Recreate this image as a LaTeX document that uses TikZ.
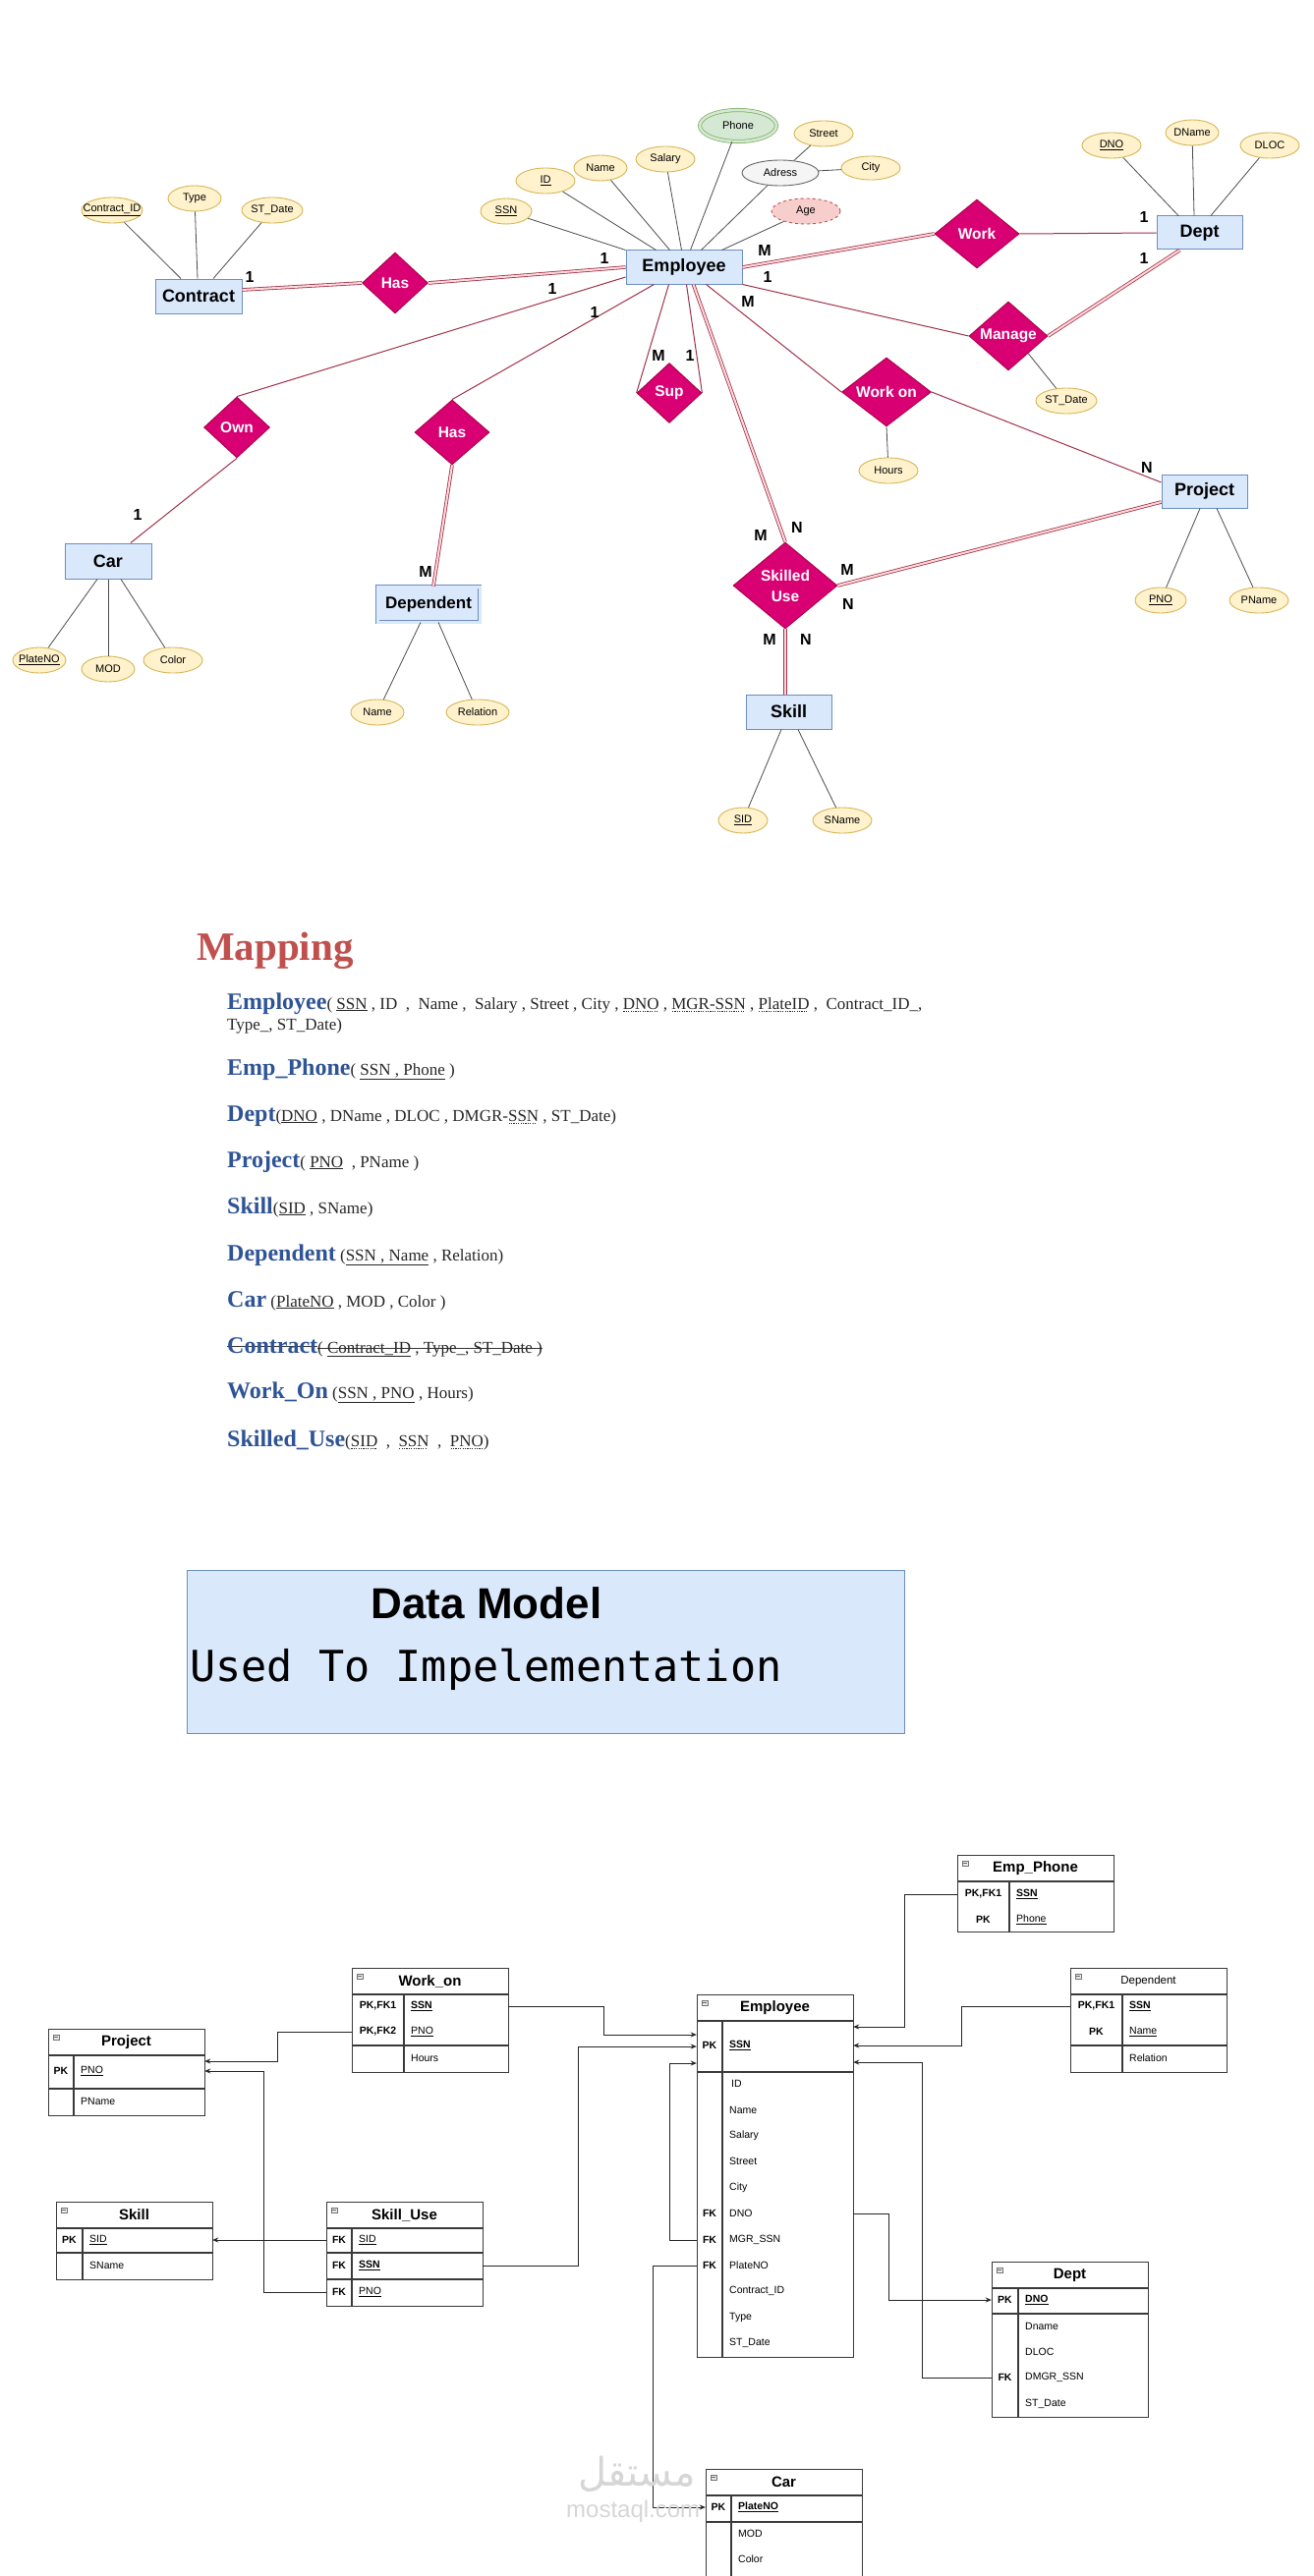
\documentclass[tikz,border=0pt]{standalone}
\usepackage{fontspec}
\usetikzlibrary{shapes.geometric,arrows.meta}
\setmainfont{Liberation Sans}
\newfontfamily\ersans{Liberation Sans}
\newfontfamily\tnr{Liberation Serif}
\newfontfamily\monof{DejaVu Sans Mono}
\newfontfamily\arabicfont[Script=Arabic]{DejaVu Sans}
\TeXXeTstate=1
\definecolor{entF}{HTML}{DAE8FC}
\definecolor{entB}{HTML}{6C8EBF}
\definecolor{attF}{HTML}{FFF2CC}
\definecolor{attB}{HTML}{D6B656}
\definecolor{relF}{HTML}{D80073}
\definecolor{relB}{HTML}{A50040}
\definecolor{lnC}{HTML}{A0304A}
\definecolor{phF}{HTML}{D5E8D4}
\definecolor{phB}{HTML}{82B366}
\definecolor{adF}{HTML}{F5F5F5}
\definecolor{adB}{HTML}{666666}
\definecolor{agF}{HTML}{F8CECC}
\definecolor{agB}{HTML}{B85450}
\definecolor{mapRed}{HTML}{C0504D}
\definecolor{mapBlue}{HTML}{2F5496}
\definecolor{tcol}{HTML}{3A3A3A}
\newcommand\zw[1]{\hbox to 0pt{\hss#1\hss}}
\newcommand\mn[1]{{\color{mapBlue}\fontsize{24}{24}\selectfont\bfseries #1}}
\newcommand\strk[1]{\setbox0=\hbox{#1}\rlap{\raise0.35\ht0\hbox{\color{black!80}\vrule width\wd0 height 1.2pt depth 0pt}}\box0\relax}
\newcommand\dotul[1]{\setbox1=\hbox{#1}\rlap{\lower2.8pt\hbox to\wd1{\leaders\hbox to 2.4pt{\hss\vrule width 1.2pt height 1pt\hss}\hfill}}\box1\relax}
\tikzset{
 ent/.style={draw=entB, fill=entF, line width=1pt, minimum width=88pt, minimum height=35pt, inner sep=0, font=\ersans\bfseries\fontsize{18}{18}\selectfont},
 attr/.style={ellipse, draw=attB, fill=attF, line width=0.9pt, minimum height=26pt, inner sep=0, font=\ersans\fontsize{11}{11}\selectfont},
 rel/.style={diamond, aspect=1.3, draw=relB, fill=relF, line width=0.8pt, inner sep=0, text=white, font=\ersans\bfseries\fontsize{15.5}{21}\selectfont},
 rl/.style={draw=lnC, line width=1pt},
 dbl/.style={draw=lnC, line width=0.8pt, double=pink!60!white, double distance=2pt},
 al/.style={draw=black!70, line width=0.8pt},
 card/.style={inner sep=0, font=\ersans\bfseries\fontsize{16}{16}\selectfont},
 mrow/.style={anchor=base west, inner sep=0, text=black!85, font=\tnr\fontsize{17}{20}\selectfont},
 tbox/.style={draw=tcol, line width=1.3pt, minimum width=159pt, inner sep=0, anchor=north west},
 tl/.style={draw=tcol, line width=1.3pt},
 ttl/.style={inner sep=0, font=\ersans\bfseries\fontsize{15}{15}\selectfont},
 tkey/.style={inner sep=0, font=\ersans\bfseries\fontsize{10.5}{10.5}\selectfont},
 tfld/.style={inner sep=0, anchor=west, font=\ersans\fontsize{10.5}{10.5}\selectfont},
 rowsp/.style={inner sep=0, minimum width=159pt, minimum height=0pt},
 ticon/.style={draw=black!55, fill=black!8, minimum width=6pt, minimum height=5pt, inner sep=0, line width=0.5pt},
 fk/.style={draw=black!85, line width=1pt, -{Stealth[length=6pt,width=5pt]}},
}
\newcommand\tbl[6]{%
  \node[tbox, minimum height=#4pt] (#1) at (#2,#3) {};
  \draw[tl] (#2,#3+27) -- (#2+159,#3+27);
  \draw[tl] (#2+#5,#3+27) -- (#2+#5,#3+#4);
  \node[ticon] (#1-ic) at (#2+8,#3+8.5) {};
  \draw[black!60, line width=0.6pt] (#2+6,#3+8.5) -- (#2+10,#3+8.5);
  \node[ttl] (#1-t) at (#2+79.5,#3+13.5) {#6};
}
\newcommand\trow[6]{%
  \node[rowsp] (#1) at (#2+79.5,#3) {};
  \node[tkey] (#1-k) at (#2+#4/2,#3) {#5};
  \node[tfld] (#1-f) at (#2+#4+7,#3) {#6};
}
\begin{document}
\begin{tikzpicture}[x=1pt,y=-1pt]
\useasboundingbox (0,0) rectangle (1337,2622);
\fill[white] (0,0) rectangle (1337,2622);

% ================= ER diagram =================
\node[ent, minimum width=118pt, minimum height=34pt] (Emp) at (696,272) {Employee};
\node[ent] (Con) at (202,301.5) {Contract};
\node[ent, minimum width=87pt, minimum height=34pt] (Dept) at (1220.5,237) {Dept};
\node[ent, minimum width=87pt, minimum height=34pt] (Proj) at (1225.5,500) {Project};
\node[ent, minimum width=87pt] (Skill) at (802.5,724.5) {Skill};
\node[ent, minimum height=36pt] (Car) at (110,571) {Car};
\node[ent, double=entF, double distance=3pt, line width=0.8pt, minimum width=104pt, minimum height=36pt, font=\ersans\bfseries\fontsize{17}{17}\selectfont] (Dep) at (436,615) {Dependent};

\node[rel, minimum width=67pt, minimum height=62pt] (HasC) at (402,288) {Has};
\node[rel, minimum width=67pt, minimum height=62pt] (Own) at (241,435) {Own};
\node[rel, minimum width=76pt, minimum height=66pt] (HasD) at (460,440) {Has};
\node[rel, minimum width=66pt, minimum height=61pt] (Sup) at (681,400) {Sup};
\node[rel, minimum width=86pt, minimum height=70pt] (Work) at (994,238) {Work};
\node[rel, minimum width=80pt, minimum height=70pt] (Mng) at (1026,342) {Manage};
\node[rel, minimum width=91pt, minimum height=70pt] (WOn) at (902,399) {Work on};
\node[rel, minimum width=106pt, minimum height=88pt, align=center] (SU) at (799,596) {Skilled\\Use};

% attributes
\node[attr, minimum width=62pt] (aCID) at (114,214) {\zw{\underline{Contract\_ID}}};
\node[attr, minimum width=54pt] (aType) at (198,202) {\zw{Type}};
\node[attr, minimum width=62pt] (aCSD) at (277,214) {\zw{ST\_Date}};
\node[attr, minimum width=52pt] (aSSN) at (515,215) {\zw{\underline{SSN}}};
\node[attr, minimum width=60pt] (aID) at (555,184) {\zw{\underline{ID}}};
\node[attr, minimum width=54pt] (aName) at (611,171) {\zw{Name}};
\node[attr, minimum width=60pt] (aSal) at (677,162) {\zw{Salary}};
\node[attr, draw=phB, fill=phF, double=phF, double distance=2.5pt, line width=0.8pt, minimum width=78pt, minimum height=32pt] (aPhone) at (751,128) {\zw{Phone}};
\node[attr, minimum width=60pt] (aStreet) at (838,136) {\zw{Street}};
\node[attr, draw=adB, fill=adF, minimum width=78pt] (aAdr) at (794,176) {\zw{Adress}};
\node[attr, minimum width=60pt, minimum height=24pt] (aCity) at (886,171) {\zw{City}};
\node[attr, draw=agB, fill=agF, dashed, minimum width=70pt] (aAge) at (820,215) {\zw{Age}};
\node[attr, minimum width=60pt] (aDNO) at (1131,148) {\zw{\underline{DNO}}};
\node[attr, minimum width=54pt] (aDName) at (1213,135) {\zw{DName}};
\node[attr, minimum width=60pt] (aDLOC) at (1292,148) {\zw{DLOC}};
\node[attr, minimum width=62pt] (aMSD) at (1085,408) {\zw{ST\_Date}};
\node[attr, minimum width=60pt] (aHours) at (904,479) {\zw{Hours}};
\node[attr, minimum width=52pt] (aPNO) at (1181,611) {\zw{\underline{PNO}}};
\node[attr, minimum width=60pt] (aPName) at (1281,611) {\zw{PName}};
\node[attr, minimum width=50pt] (aSID) at (756,835) {\zw{\underline{SID}}};
\node[attr, minimum width=60pt] (aSName) at (857,835) {\zw{SName}};
\node[attr, minimum width=54pt] (aPlate) at (40,672) {\zw{\underline{PlateNO}}};
\node[attr, minimum width=54pt] (aMOD) at (110,681) {\zw{MOD}};
\node[attr, minimum width=60pt] (aColor) at (176,672) {\zw{Color}};
\node[attr, minimum width=54pt] (aDepN) at (384,725) {\zw{Name}};
\node[attr, minimum width=64pt] (aRel) at (486,725) {\zw{Relation}};

% attribute lines
\draw[al] (aSSN) -- (Emp.north west);
\draw[al] (aID) -- ([xshift=31pt]Emp.north west);
\draw[al] (aName) -- ([xshift=45pt]Emp.north west);
\draw[al] (aSal) -- ([xshift=57pt]Emp.north west);
\draw[al] (aPhone) -- ([xshift=66pt]Emp.north west);
\draw[al] (aAdr) -- ([xshift=77pt]Emp.north west);
\draw[al] (aAge) -- ([xshift=98pt]Emp.north west);
\draw[al] (aStreet) -- (aAdr);
\draw[al] (aCity) -- (aAdr);
\draw[al] (aCID) -- ([xshift=-18pt]Con.north);
\draw[al] (aType) -- ([xshift=-1pt]Con.north);
\draw[al] (aCSD) -- ([xshift=15pt]Con.north);
\draw[al] (aDNO) -- ([xshift=-21.5pt]Dept.north);
\draw[al] (aDName) -- ([xshift=-5.5pt]Dept.north);
\draw[al] (aDLOC) -- ([xshift=11.5pt]Dept.north);
\draw[al] (aPNO) -- ([xshift=-4.5pt]Proj.south);
\draw[al] (aPName) -- ([xshift=12.5pt]Proj.south);
\draw[al] (aSID) -- ([xshift=-7.5pt]Skill.south);
\draw[al] (aSName) -- ([xshift=9.5pt]Skill.south);
\draw[al] (aPlate) -- ([xshift=-11pt]Car.south);
\draw[al] (aMOD) -- (Car.south);
\draw[al] (aColor) -- ([xshift=13pt]Car.south);
\draw[al] (aDepN) -- ([xshift=-8pt]Dep.south);
\draw[al] (aRel) -- ([xshift=10pt]Dep.south);
\draw[al] (Mng.south east) -- (aMSD);
\draw[al] (WOn.south) -- (aHours);

% relationship lines
\draw[dbl] ([yshift=6.5pt]Con.east) -- (HasC.west);
\draw[dbl] (HasC.east) -- (Emp.west);
\draw[rl] ([yshift=-10pt]Emp.west) -- (Own.north);
\draw[rl] (Own.south) -- ([xshift=23pt]Car.north);
\draw[rl] ([xshift=29pt]Emp.south west) -- (HasD.north);
\draw[dbl] (HasD.south) -- ([xshift=5pt]Dep.north);
\draw[rl] ([xshift=44pt]Emp.south west) -- (Sup.west);
\draw[rl] ([xshift=62pt]Emp.south west) -- (Sup.east);
\draw[dbl] ([xshift=69pt]Emp.south west) -- (SU.north);
\draw[rl] ([xshift=82pt]Emp.south west) -- (WOn.west);
\draw[dbl] (Emp.east) -- (Work.west);
\draw[rl] (Work.east) -- (Dept.west);
\draw[rl] (Emp.south east) -- (Mng.west);
\draw[dbl] (Mng.east) -- ([xshift=-20pt]Dept.south);
\draw[rl] (WOn.east) -- ([yshift=9pt]Proj.west);
\draw[dbl] (SU.east) -- ([yshift=-11pt]Proj.west);
\draw[dbl] (SU.south) -- ([xshift=-3.5pt]Skill.north);

% cardinalities
\node[card] (k1) at (254,282) {1};
\node[card] (k2) at (615,263) {1};
\node[card] (k3) at (562,294) {1};
\node[card] (k4) at (605,318) {1};
\node[card] (k5) at (140,524) {1};
\node[card] (k6) at (670,362) {M};
\node[card] (k7) at (702,362) {1};
\node[card] (k8) at (778,255) {M};
\node[card] (k9) at (781,282) {1};
\node[card] (k10) at (761,307) {M};
\node[card] (k11) at (1164,221) {1};
\node[card] (k12) at (1164,263) {1};
\node[card] (k13) at (1167,476) {N};
\node[card] (k14) at (433,582) {M};
\node[card] (k15) at (774,545) {M};
\node[card] (k16) at (811,537) {N};
\node[card] (k17) at (862,580) {M};
\node[card] (k18) at (863,615) {N};
\node[card] (k19) at (783,651) {M};
\node[card] (k20) at (820,651) {N};

% ================= Mapping =================
\node[anchor=base west, inner sep=0, text=mapRed, font=\tnr\bfseries\fontsize{41}{41}\selectfont] (mT) at (200,977) {Mapping};
\node[mrow] (m1) at (231,1027) {\mn{Employee}( \underline{SSN} , ID\ \ ,\ \ Name ,\ \ Salary , Street , City , \dotul{DNO} , \dotul{MGR-SSN} , \dotul{PlateID} ,\ \ Contract\_ID\_,};
\node[mrow] (m1b) at (231,1048) {Type\_, ST\_Date)};
\node[mrow] (m2) at (231,1094) {\mn{Emp\_Phone}( \underline{SSN , Phone} )};
\node[mrow] (m3) at (231,1141) {\mn{Dept}(\underline{DNO} , DName , DLOC , DMGR-\dotul{SSN} , ST\_Date)};
\node[mrow] (m4) at (231,1188) {\mn{Project}( \underline{PNO}\ \ , PName )};
\node[mrow] (m5) at (231,1235) {\mn{Skill}(\underline{SID} , SName)};
\node[mrow] (m6) at (231,1283) {\mn{Dependent} (\underline{SSN , Name} , Relation)};
\node[mrow] (m7) at (231,1330) {\mn{Car} (\underline{PlateNO} , MOD , Color )};
\node[mrow] (m8) at (231,1377) {\strk{\mn{Contract}}\strk{( \underline{Contract\_ID} , Type\_, ST\_Date )}};
\node[mrow] (m9) at (231,1423) {\mn{Work\_On} (\underline{SSN , PNO} , Hours)};
\node[mrow] (m10) at (231,1472) {\mn{Skilled\_Use}(\dotul{SID}\ \ ,\ \ \dotul{SSN}\ \ ,\ \ \dotul{PNO})};

% ================= Data model box =================
\node[draw=entB, fill=entF, line width=1pt, minimum width=730pt, minimum height=166pt, anchor=north west, inner sep=0] (dm) at (190,1598) {};
\node[anchor=base, inner sep=0, font=\ersans\bfseries\fontsize{44}{44}\selectfont] (dmT) at (495,1647) {Data Model};
\node[anchor=base west, inner sep=0, font=\monof\fontsize{43.5}{43.5}\selectfont] (dmS) at (193,1711) {Used To Impelementation};

% ================= Relational schema =================
\tbl{tPh}{974}{1888}{78}{53}{Emp\_Phone}
\trow{rPhSSN}{974}{1928}{53}{PK,FK1}{\textbf{\underline{SSN}}}
\trow{rPhPh}{974}{1954}{53}{PK}{\underline{Phone}}

\tbl{tDep}{1089}{2003}{106}{53}{\mdseries\fontsize{11.5}{11.5}\selectfont Dependent}
\draw[tl] (1089,2082) -- (1248,2082);
\trow{rDepSSN}{1089}{2042}{53}{PK,FK1}{\textbf{\underline{SSN}}}
\trow{rDepName}{1089}{2068}{53}{PK}{\underline{Name}}
\trow{rDepRel}{1089}{2095}{53}{}{Relation}

\tbl{tEmp}{709}{2030}{369}{26}{Employee}
\draw[tl] (709,2109) -- (868,2109);
\trow{rEmpSSN}{709}{2082}{26}{PK}{\textbf{\underline{SSN}}}
\trow{rEmpID}{709}{2121}{26}{}{\kern2pt ID}
\trow{rEmpName}{709}{2148}{26}{}{Name}
\trow{rEmpSal}{709}{2174}{26}{}{Salary}
\trow{rEmpStr}{709}{2200}{26}{}{Street}
\trow{rEmpCity}{709}{2227}{26}{}{City}
\trow{rEmpDNO}{709}{2253}{26}{FK}{DNO}
\trow{rEmpMGR}{709}{2280}{26}{FK}{MGR\_SSN}
\trow{rEmpPlate}{709}{2306}{26}{FK}{PlateNO}
\trow{rEmpCID}{709}{2332}{26}{}{Contract\_ID}
\trow{rEmpType}{709}{2359}{26}{}{Type}
\trow{rEmpSD}{709}{2385}{26}{}{ST\_Date}

\tbl{tDept}{1009}{2302}{158}{27}{Dept}
\draw[tl] (1009,2355) -- (1168,2355);
\trow{rDeptDNO}{1009}{2341}{27}{PK}{\textbf{\underline{DNO}}}
\trow{rDeptName}{1009}{2368}{27}{}{Dname}
\trow{rDeptLoc}{1009}{2394}{27}{}{DLOC}
\trow{rDeptMGR}{1009}{2420}{27}{FK}{DMGR\_SSN}
\trow{rDeptSD}{1009}{2447}{27}{}{ST\_Date}

\tbl{tCar}{718}{2513}{125}{26}{Car}
\draw[tl] (718,2567) -- (877,2567);
\trow{rCarPlate}{718}{2552}{26}{PK}{\textbf{\underline{PlateNO}}}
\trow{rCarMOD}{718}{2579}{26}{}{MOD}
\trow{rCarCol}{718}{2605}{26}{}{Color}

\tbl{tProj}{49}{2065}{88}{26}{Project}
\draw[tl] (49,2126) -- (208,2126);
\trow{rProjPNO}{49}{2108}{26}{PK}{\underline{PNO}}
\trow{rProjName}{49}{2139}{26}{}{PName}

\tbl{tWo}{358}{2003}{106}{53}{Work\_on}
\draw[tl] (358,2082) -- (517,2082);
\trow{rWoSSN}{358}{2042}{53}{PK,FK1}{\textbf{\underline{SSN}}}
\trow{rWoPNO}{358}{2068}{53}{PK,FK2}{\underline{PNO}}
\trow{rWoH}{358}{2095}{53}{}{Hours}

\tbl{tSk}{57}{2241}{79}{27}{Skill}
\draw[tl] (57,2293) -- (216,2293);
\trow{rSkSID}{57}{2280}{27}{PK}{\underline{SID}}
\trow{rSkName}{57}{2306}{27}{}{SName}

\tbl{tSU}{332}{2241}{106}{26}{Skill\_Use}
\draw[tl] (332,2293) -- (491,2293);
\draw[tl] (332,2320) -- (491,2320);
\trow{rSUSID}{332}{2280}{26}{FK}{\underline{SID}}
\trow{rSUSSN}{332}{2306}{26}{FK}{\textbf{\underline{SSN}}}
\trow{rSUPNO}{332}{2333}{26}{FK}{\underline{PNO}}

% foreign key connectors
\draw[fk] (rWoSSN.east) -- ++(97,0) |- ([yshift=11pt]rEmpSSN.west);
\draw[fk] (rSUSSN.east) -- ++(97,0) |- ([yshift=-1pt]rEmpSSN.west);
\draw[fk] (rEmpMGR.west) -- ++(-27,0) |- ([yshift=-18pt]rEmpSSN.west);
\draw[fk] (rEmpPlate.west) -- ++(-44,0) |- (rCarPlate.west);
\draw[fk] (rEmpDNO.east) -- ++(36,0) |- (rDeptDNO.west);
\draw[fk] (rDeptMGR.west) -- ++(-70,0) |- ([yshift=-17pt]rEmpSSN.east);
\draw[fk] (rPhSSN.west) -- ++(-53,0) |- ([yshift=19pt]rEmpSSN.east);
\draw[fk] (rDepSSN.west) -- ++(-110,0) |- (rEmpSSN.east);
\draw[fk] (rWoPNO.west) -- ++(-75,0) |- ([yshift=10pt]rProjPNO.east);
\draw[fk] (rSUPNO.west) -- ++(-63,0) |- (rProjPNO.east);
\draw[fk] (rSUSID.west) -- (rSkSID.east);

% watermark
\node[anchor=base west, inner sep=0, text=black!16, font=\arabicfont\fontsize{40}{40}\selectfont] (wm1) at (588,2530) {\beginR مستقل\endR};
\node[anchor=base west, inner sep=0, text=black!16, font=\ersans\fontsize{24}{24}\selectfont] (wm2) at (576,2562) {mostaql.com};
\end{tikzpicture}
\end{document}
